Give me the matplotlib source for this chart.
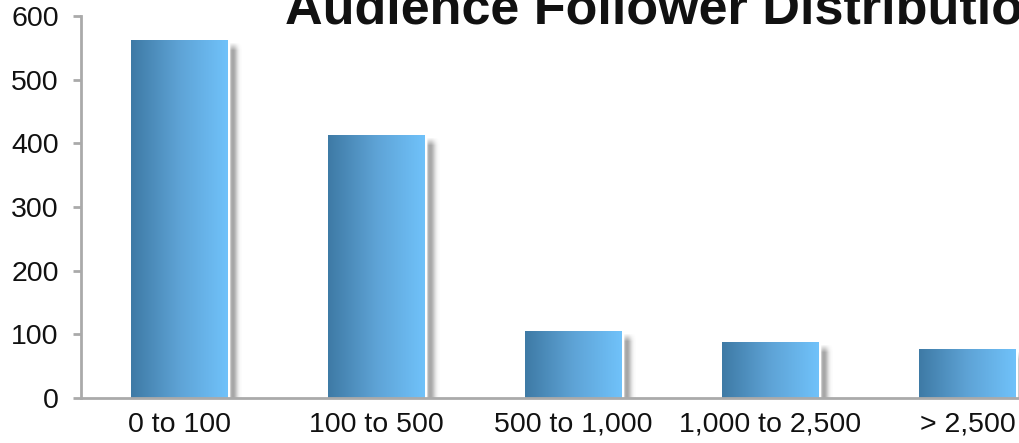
import numpy as np
from matplotlib import pyplot as plt
from matplotlib import colors
from matplotlib.patches import Rectangle

categories = ['0 to 100', '100 to 500', '500 to 1,000', '1,000 to 2,500', '> 2,500']
followers = [561, 413, 104, 87, 76]
yticks = [0, 100, 200, 300, 400, 500, 600]
title = 'Audience Follower Distribution'

plt.rcParams['font.family'] = ['Liberation Sans', 'DejaVu Sans']

W, H = 1019, 443
fig = plt.figure(figsize=(W / 100, H / 100), dpi=100)
ax = fig.add_axes([81 / W, 45 / H, 985 / W, 382 / H])

grad = colors.LinearSegmentedColormap.from_list('bar', ['#3e7aa5', '#5ea3d6', '#70c2fa'])
g = np.linspace(0, 1, 256).reshape(1, -1)

bw = 0.49
px_x = 1 / 197.0
px_y = 600 / 382.0

# shadow strip to the right of each bar, 14 px wide
sx = np.arange(14)
prof = np.where(sx < 2, 0.0, 0.5 * np.exp(-((sx - 4.5) / 4.5) ** 2))

for i, v in enumerate(followers):
    x0 = i - bw / 2
    hpx = int(round(v / px_y))
    fade = np.clip(np.arange(hpx) / 8.0, 0, 1)  # fade in near the top
    shadow = np.zeros((hpx, len(sx), 4))
    shadow[..., :3] = 0.3
    shadow[..., 3] = fade[::-1][:, None] * prof[None, :]
    ax.imshow(shadow, extent=(x0 + bw, x0 + bw + 14 * px_x, 0, v - 2 * px_y),
              aspect='auto', zorder=1, interpolation='bilinear', origin='lower')
    ax.add_patch(Rectangle((x0, 0), bw, v, facecolor='white', edgecolor='white',
                           linewidth=2.5, zorder=2))
    ax.imshow(g, cmap=grad, extent=(x0, x0 + bw, 0, v), aspect='auto', zorder=3,
              interpolation='bilinear')

ax.set_xlim(-0.5, 4.5)
ax.set_ylim(0, 600)
ax.set_xticks(range(len(categories)))
ax.set_xticklabels(categories)
ax.set_yticks(yticks)

for s in ['top', 'right']:
    ax.spines[s].set_visible(False)
for s in ['left', 'bottom']:
    ax.spines[s].set_color('#aaaaaa')
    ax.spines[s].set_linewidth(2)
    ax.spines[s].set_zorder(4)
ax.tick_params(axis='y', length=6, width=2, color='#aaaaaa', labelsize=20.5, pad=10,
               labelcolor='#111111')
ax.tick_params(axis='x', length=0, labelsize=20.5, pad=10, labelcolor='#111111')

fig.text(285 / W, (H - 23) / H, title, fontsize=37.5, fontweight='bold',
         ha='left', va='baseline', color='#111111')

plt.savefig('out.png', dpi=100)
